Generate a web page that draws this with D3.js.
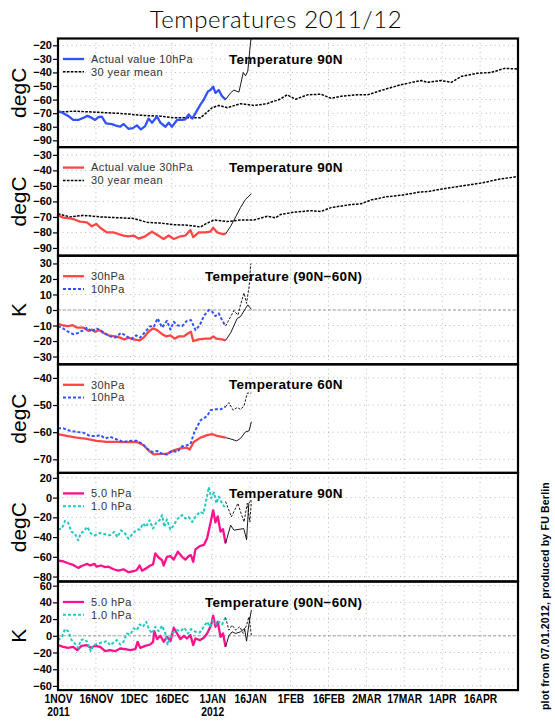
<!DOCTYPE html>
<html>
<head>
<meta charset="utf-8">
<script src="https://cdn.jsdelivr.net/npm/d3@7"></script>
<style>
  body { margin: 0; background: #fff; }
  text { font-family: "Liberation Sans", Arial, sans-serif; }
</style>
</head>
<body>
<svg id="chart" width="555" height="725"></svg>
<script>
// values: [days since 1 Nov 2011, value]
var t10_90 = [[0,-68.5],[2.1,-70],[4,-72],[6,-75],[8,-75],[10,-73.5],[11.6,-72],[13.4,-73.5],[14.7,-75],[16,-73],[17.3,-72.5],[19,-77.5],[21.3,-78],[22.6,-79],[24.6,-80],[25.9,-78],[27.9,-81.5],[29.6,-81],[31.2,-79],[32.8,-82],[34.5,-79.5],[35.8,-74],[37.2,-77],[39.2,-72.5],[40.5,-77],[42.5,-80],[43.8,-77],[45.1,-80],[47.1,-75],[49.1,-75],[50.4,-74.5],[51.7,-71],[53.1,-74],[54.4,-70],[56.4,-63.5],[57.7,-60],[59.3,-54],[60.3,-53],[61.4,-50.5],[62.3,-55],[63.6,-53],[64.9,-57.5],[66.3,-60]];
var fc10_90 = [[66.3,-60],[68.3,-55],[69.6,-53],[71.6,-54.5],[73.3,-40],[74.2,-42.5],[75.1,-39],[75.9,-23],[76.8,-8]];
var mean10_90 = [[0,-69.3],[6,-68.5],[15.3,-69.3],[24.6,-70.2],[33.9,-71.7],[40.5,-72.2],[45.8,-73.4],[51,-73.4],[56.4,-73.4],[58.4,-70.2],[61,-66],[63.6,-64.3],[67,-66],[72.2,-63],[77.5,-64.3],[82.8,-63],[84.1,-62],[87.5,-60],[90.7,-56.5],[94,-59.7],[98.7,-56.5],[104,-56],[108,-59],[113,-57.3],[118.5,-56.5],[122.5,-56.5],[127.8,-53.3],[135.7,-49],[143.7,-46],[146.3,-47.3],[151.6,-46],[155.6,-47.3],[159.5,-43],[166,-40.6],[171.4,-40],[176.7,-37],[182,-37.5]];

var t30_90 = [[0,-69],[2.1,-70.5],[4.8,-71],[6.7,-71.8],[8.7,-73],[11.4,-73.5],[13.4,-76],[15.1,-74.5],[16.7,-77],[19.3,-80],[21.9,-80],[23.9,-81],[25.9,-82],[27.9,-82.5],[29.9,-82],[31.9,-84],[34.5,-82.5],[37.2,-79.5],[39.2,-81.5],[41.8,-84.2],[43.8,-82],[45.8,-84.2],[48.4,-82.5],[50.4,-82],[52.4,-78.5],[53.5,-83],[55.7,-80],[58.4,-80],[60.3,-79.5],[61.4,-77],[63,-80],[64.9,-81],[66.3,-81]];
var fc30_90 = [[66.3,-81],[68.3,-76],[70.3,-70],[72.2,-64],[74.2,-58.7],[76.5,-55]];
var mean30_90 = [[0,-68],[4.8,-70],[10,-69],[16.7,-70],[24.6,-70.6],[29.9,-71],[35.2,-73.5],[40.5,-74],[45.8,-75],[51,-75.3],[56.4,-76.5],[58.4,-74.5],[61.7,-72],[67,-73],[72.2,-72],[77.5,-72],[82.8,-69.6],[86,-70.6],[88,-68.5],[93,-67],[100,-66],[104,-66.5],[108,-64],[116,-62],[120,-61.5],[124,-59],[130,-57],[136,-56],[143,-54],[147,-53.5],[152,-52],[160,-50],[168,-48],[175,-45.5],[182,-44]];

var d30_diff = [[0,-9],[2.1,-10],[4,-10.4],[5.8,-9.8],[7.4,-11.3],[10,-11.3],[12.1,-13.5],[13.4,-12.6],[14.7,-14],[16.4,-13],[18,-14.8],[20,-16.3],[22.6,-17],[24.6,-17.8],[26.2,-19],[27.9,-17.8],[29.9,-19],[32.3,-19.6],[33.9,-17.8],[35.8,-14],[37.6,-11.8],[39.2,-13],[41.2,-15.6],[42.9,-17],[44.5,-16.3],[46.1,-18.5],[47.8,-17],[49.8,-17],[51.7,-14.8],[52.6,-14],[53.5,-20],[55.7,-19],[58.4,-18.5],[60.3,-18.5],[61.4,-17],[62.7,-18.5],[64.9,-19],[66.3,-19.6]];
var fc30_diff = [[66.3,-19.6],[68.3,-14.8],[70.9,-5.4],[72.2,-4.3],[74.2,1],[75.1,3.3],[76.5,0.4]];
var d10_diff = [[0,-10.4],[2.1,-12],[4,-14],[6,-15.6],[8,-14.8],[10,-13],[11.6,-11.3],[13.4,-14],[15.1,-11.8],[16.7,-13],[18.7,-15.2],[20.6,-17],[22.6,-17.8],[24.9,-14.8],[26.6,-16.3],[27.9,-17.8],[29.2,-18.5],[30.9,-16.3],[32.5,-17.8],[34.5,-14],[36.5,-10.4],[37.9,-10.9],[39.4,-5.4],[41.2,-11.3],[43.1,-7],[44.5,-12.6],[45.8,-7.6],[47.1,-9.8],[49.1,-10.4],[51,-7],[52.6,-6.5],[54.4,-13],[56.1,-9.8],[57.7,-3.9],[59.7,0],[61,-1],[62.3,-3.9],[63.6,-2.2],[64.9,-6.5],[66.3,-10.4]];
var fc10_diff = [[66.3,-10.4],[68.3,-4.3],[69.6,-0.4],[71.2,-3.3],[72.2,3.3],[73.6,11],[74.6,4.3],[75.6,15],[76.3,30]];

var t30_60 = [[0,-60.7],[3.4,-61.4],[7.4,-62],[11.4,-62.5],[15.3,-63.2],[19.3,-63.6],[23.3,-63.6],[27.2,-63.7],[31.2,-63.6],[33.9,-64.8],[35.8,-66.7],[37.8,-68.2],[40.5,-68],[43.1,-68],[45.8,-66.7],[48.4,-66],[51,-65.7],[52.1,-66.4],[53.7,-63.6],[56.4,-62],[59,-61.1],[61,-60.7],[63,-61.4],[66.3,-62]];
var fc30_60 = [[66.3,-62],[68.3,-62.5],[70.7,-63.2],[72.2,-62.3],[74.2,-59.9],[75.6,-59.5],[76.5,-56.2]];
var t10_60 = [[0,-58.6],[2.1,-58.6],[4.8,-59.5],[7.4,-59.9],[10,-60.2],[12.7,-61.4],[15.3,-61.4],[16.7,-61.1],[18.7,-62.3],[20.6,-61.7],[23.3,-62.7],[25.9,-63.6],[28.6,-63.2],[31.2,-63.2],[33.2,-64.2],[35.2,-66],[37.2,-67.3],[39.2,-66.9],[41.2,-68],[43.1,-68.2],[45.1,-66.9],[47.1,-67.3],[49.1,-65.2],[51,-64.8],[52.4,-64.4],[54,-59.9],[56.4,-55.6],[59,-54.1],[60.3,-51.9],[62.3,-51.6],[64.3,-51.6],[66.3,-50.6]];
var fc10_60 = [[66.3,-50.6],[67.6,-49.1],[69.3,-51.9],[70.9,-50.9],[72.2,-51.6],[73.6,-50.4],[74.9,-45.6],[76.5,-45.6]];

var t5_90 = [[0,-63.8],[2,-64.5],[4,-66.5],[6,-68.2],[8,-71.2],[9.8,-68.8],[11.6,-67.2],[12.7,-68.8],[14.4,-67.2],[15.3,-70],[17,-68.8],[18.7,-70.5],[20,-70],[22,-72.6],[23.9,-74],[25.9,-72.6],[27.9,-75.6],[29.9,-74.6],[31.2,-73.3],[32.3,-68.8],[33.2,-74],[35.2,-71.2],[36.5,-68.8],[37.6,-67.8],[38.5,-56.6],[39.8,-60.7],[41.2,-63.5],[41.8,-68.8],[43.1,-60],[44.5,-59.3],[45.8,-62.8],[47.4,-54.9],[49.1,-60],[50.4,-62.8],[51.7,-59.3],[52.6,-58.3],[53.5,-65.1],[54.4,-52.5],[56.1,-49.1],[57.7,-48],[59,-41.2],[60.3,-25.9],[61.4,-12.9],[62.3,-25.2],[63.2,-19],[64.3,-34.4],[65.3,-32],[66.3,-46.4]];
var fc5_90 = [[66.3,-46.4],[68.3,-28],[69.6,-33],[73.5,-31.4],[74.6,-42.6],[75.5,-5.8],[76.5,-2.4]];
var t1_90 = [[0,-32.4],[1.5,-31.4],[2.8,-23.5],[4,-25.6],[5.4,-34.8],[6.7,-36.5],[8,-43.3],[9,-35.8],[10,-34.8],[11.6,-29.7],[13,-36.5],[14.7,-38.2],[16.7,-35.8],[18.7,-37.2],[20.6,-38.2],[22.2,-34.8],[23.5,-40],[24.9,-33.2],[26.6,-36.5],[27.9,-41.6],[29.6,-36.5],[31.2,-32.4],[32.5,-32.4],[33.6,-26.3],[34.9,-29.7],[36.2,-22.9],[37.6,-31.4],[38.8,-25.6],[40.2,-22.9],[41.2,-17.7],[42.1,-29.7],[43.1,-22.2],[44.5,-32.4],[45.8,-28],[47.4,-21.2],[49.1,-17.7],[50.4,-21.2],[51.7,-19.5],[53.1,-24.6],[54.4,-19.5],[56.1,-14.3],[57.5,-16],[58.4,-5.8],[59.7,10.6],[60.6,-0.7],[61.7,5.1],[62.7,-5.8],[63.6,1],[64.9,-5.8],[66.3,-10.9]];
var fc1_90 = [[66.3,-4],[68.6,-19.5],[71.2,-5.8],[72.2,-14.3],[73.6,-24.6],[74.9,-5.8],[75.9,-24.6],[76.5,-4]];

var d5_diff = [[0,-11.2],[2.1,-13.2],[4,-14.4],[6,-13.2],[7.6,-17.2],[9.3,-12],[11.4,-11.2],[13,-14.4],[14.7,-12],[16.7,-13.2],[18.7,-18.4],[20.6,-17.2],[22.6,-18.4],[24.6,-15.2],[26.6,-16],[28.6,-17.2],[30.6,-16],[31.5,-7.2],[32.5,-14.4],[34.5,-12],[36.5,-10.4],[37.6,-7.2],[38.1,5.6],[39.2,-4],[40.5,0],[41.8,-7.2],[43.1,-1.2],[44.5,-6.4],[45.8,9.6],[47.1,2.8],[48.4,-4],[49.8,0],[51,-3.2],[52.4,0.8],[53.5,-11.2],[54.4,-3.2],[56.1,-5.2],[57.7,-2.4],[59,2.8],[60.6,12.8],[61.4,24],[62.3,10.8],[63.2,16.8],[64.3,-1.2],[65.3,2.8],[66.3,-13.2]];
var fc5_diff = [[66.3,-13.2],[67.6,0],[68.9,4.8],[70.3,2.8],[72.2,4.8],[73.8,8.8],[74.6,-6.4],[75.6,14.8],[76.5,30.8]];
var d1_diff = [[0,-5.2],[1.5,-1.2],[2.8,8],[4,5.6],[5.4,-5.2],[6.7,-9.2],[8,-14.4],[9,-5.2],[10.3,-4],[11.6,-7.2],[13,-18.4],[14.1,-11.2],[15.7,-9.2],[17.4,-8],[19.3,-6.4],[20.6,-11.2],[22,-8],[23.3,-5.2],[24.6,-10.4],[25.9,-7.2],[27.2,2.8],[28.6,1.6],[29.9,8.8],[31.2,6.8],[32.3,13.6],[33.6,10.8],[34.9,16.8],[36,8],[37.2,2.8],[38.5,10.8],[39.8,5.6],[41.2,12],[42.5,2.8],[43.4,-10.4],[44.5,-1.2],[45.8,4.8],[47.1,6.8],[48.4,5.6],[50,9.6],[51.4,2.8],[52.6,8],[54.4,4.8],[56.1,4],[57.7,10.8],[59,16.8],[60.1,10.8],[61.4,18.8],[62.7,13.6],[63.6,16.8],[64.9,13.6],[66.3,22]];
var fc1_diff = [[66.3,22],[67.6,6.8],[68.9,12.8],[70.3,6.8],[71.9,10.8],[73.3,2.8],[74.6,12.8],[75.6,22.8],[76.5,0.8]];

var dateTicks = ["2011-11-01","2011-11-16","2011-12-01","2011-12-16","2012-01-01","2012-01-16","2012-02-01","2012-02-16","2012-03-02","2012-03-17","2012-04-01","2012-04-16"];
var dateLabels = ["1NOV","16NOV","1DEC","16DEC","1JAN","16JAN","1FEB","16FEB","2MAR","17MAR","1APR","16APR"];
var yearLabels = {"1NOV": "2011", "1JAN": "2012"};

var BLUE = "#3352ff", RED = "#ff4646", PINK = "#ff108c", CYAN = "#22c8c8";

var solid = function (data, color) { return {data: data, color: color, width: 2.3, dash: null}; };
var dashed = function (data, color) { return {data: data, color: color, width: 2, dash: "3,2"}; };
var mean = function (data) { return {data: data, color: "#000", width: 1.5, dash: "2.6,1.3"}; };
var fcSolid = function (data) { return {data: data, color: "#000", width: 0.9, dash: null}; };
var fcDashed = function (data) { return {data: data, color: "#000", width: 0.9, dash: "2.5,1.5"}; };

var panels = [
    {domain: [-95, -15], ticks: d3.range(-90, -10, 10), unit: "degC", title: "Temperature 90N",
     series: [mean(mean10_90), solid(t10_90, BLUE), fcSolid(fc10_90)],
     legend: [["Actual value 10hPa", BLUE, null, 2.3], ["30 year mean", "#000", "2.6,1.3", 1.5]]},
    {domain: [-95, -25], ticks: d3.range(-90, -20, 10), unit: "degC", title: "Temperature 90N",
     series: [mean(mean30_90), solid(t30_90, RED), fcSolid(fc30_90)],
     legend: [["Actual value 30hPa", RED, null, 2.3], ["30 year mean", "#000", "2.6,1.3", 1.5]]},
    {domain: [-35, 35], ticks: d3.range(-30, 40, 10), unit: "K", title: "Temperature (90N\u221260N)", zero: true,
     series: [solid(d30_diff, RED), dashed(d10_diff, BLUE), fcSolid(fc30_diff), fcDashed(fc10_diff)],
     legend: [["30hPa", RED, null, 2.3], ["10hPa", BLUE, "3,2", 2]]},
    {domain: [-75, -35], ticks: d3.range(-70, -30, 10), unit: "degC", title: "Temperature 60N",
     series: [solid(t30_60, RED), dashed(t10_60, BLUE), fcSolid(fc30_60), fcDashed(fc10_60)],
     legend: [["30hPa", RED, null, 2.3], ["10hPa", BLUE, "3,2", 2]]},
    {domain: [-85, 25], ticks: d3.range(-80, 40, 20), unit: "degC", title: "Temperature 90N",
     series: [solid(t5_90, PINK), dashed(t1_90, CYAN), fcSolid(fc5_90), fcDashed(fc1_90)],
     legend: [["5.0 hPa", PINK, null, 2.3], ["1.0 hPa", CYAN, "3,2", 2]]},
    {domain: [-65, 65], ticks: d3.range(-60, 80, 20), unit: "K", title: "Temperature (90N\u221260N)", zero: true,
     series: [solid(d5_diff, PINK), dashed(d1_diff, CYAN), fcSolid(fc5_diff), fcDashed(fc1_diff)],
     legend: [["5.0 hPa", PINK, null, 2.3], ["1.0 hPa", CYAN, "3,2", 2]]}
];

var left = 58, right = 518, top0 = 38.5, panelH = 108.6;
var start = new Date(Date.UTC(2011, 10, 1)), end = new Date(Date.UTC(2012, 4, 1));
var x = d3.scaleUtc().domain([start, end]).range([left, right]);
var toDate = function (d) { return new Date(start.getTime() + d * 864e5); };
var tickDates = dateTicks.map(function (s) { return new Date(s + "T00:00:00Z"); });

var svg = d3.select("#chart");

svg.append("text")
    .attr("x", 276).attr("y", 28)
    .attr("text-anchor", "middle")
    .style("font-size", "24px").style("font-family", "Lato, 'Liberation Sans', sans-serif").style("font-weight", 300)
    .style("letter-spacing", "0.6px")
    .text("Temperatures 2011/12");

panels.forEach(function (p, i) {
    var y0 = top0 + i * panelH, y1 = y0 + panelH;
    var y = d3.scaleLinear().domain(p.domain).range([y1, y0]);
    var g = svg.append("g");

    g.append("clipPath").attr("id", "clip" + i)
        .append("rect").attr("x", left).attr("y", y0).attr("width", right - left).attr("height", panelH);

    // dotted grid
    g.selectAll(".hgrid").data(p.ticks).enter().append("line")
        .attr("x1", left).attr("x2", right)
        .attr("y1", function (d) { return y(d); }).attr("y2", function (d) { return y(d); })
        .attr("stroke", "#a8a8a8").attr("stroke-width", 0.8).attr("stroke-dasharray", "1,3.5");
    g.selectAll(".vgrid").data(tickDates.slice(1)).enter().append("line")
        .attr("x1", function (d) { return x(d); }).attr("x2", function (d) { return x(d); })
        .attr("y1", y0).attr("y2", y1)
        .attr("stroke", "#a8a8a8").attr("stroke-width", 0.8).attr("stroke-dasharray", "1,3.5");

    if (p.zero) {
        g.append("line")
            .attr("x1", left).attr("x2", right).attr("y1", y(0)).attr("y2", y(0))
            .attr("stroke", "#888").attr("stroke-width", 0.8).attr("stroke-dasharray", "3,2");
    }

    var line = d3.line()
        .x(function (d) { return x(toDate(d[0])); })
        .y(function (d) { return y(d[1]); });

    var lines = g.append("g").attr("clip-path", "url(#clip" + i + ")");
    p.series.forEach(function (s) {
        lines.append("path")
            .attr("d", line(s.data))
            .attr("fill", "none")
            .attr("stroke", s.color)
            .attr("stroke-width", s.width)
            .attr("stroke-dasharray", s.dash)
            .attr("stroke-linejoin", "round");
    });

    // frame
    g.append("rect")
        .attr("x", left).attr("y", y0).attr("width", right - left).attr("height", panelH)
        .attr("fill", "none").attr("stroke", "#000").attr("stroke-width", 2.2);

    // y axis
    var ax = g.append("g")
        .attr("transform", "translate(" + left + ",0)")
        .call(d3.axisLeft(y).tickValues(p.ticks).tickSize(5).tickPadding(1).tickFormat(d3.format("d")));
    ax.select(".domain").remove();
    ax.selectAll("line").attr("stroke-width", 1.2);
    ax.selectAll("text").style("font-size", "11px").style("font-weight", "bold")
        .style("font-family", "'Liberation Sans', Arial, sans-serif");

    g.append("text")
        .attr("transform", "translate(26," + (y0 + panelH / 2) + ") rotate(-90)")
        .attr("text-anchor", "middle")
        .style("font-size", "21px")
        .text(p.unit);

    g.append("text")
        .attr("x", p.title.length > 16 ? 205 : 229).attr("y", y0 + 25)
        .style("font-size", "13.5px").style("font-weight", "bold").style("letter-spacing", "0.3px")
        .text(p.title);

    // legend
    p.legend.forEach(function (l, j) {
        var ly = y0 + 20.5 + j * 12.8;
        g.append("line")
            .attr("x1", 63).attr("x2", 84).attr("y1", ly).attr("y2", ly)
            .attr("stroke", l[1]).attr("stroke-width", l[3]).attr("stroke-dasharray", l[2]);
        g.append("text")
            .attr("x", 91).attr("y", ly + 3.8)
            .style("font-size", "11px").style("letter-spacing", "0.4px").attr("fill", "#333")
            .text(l[0]);
    });

    if (i === panels.length - 1) {
        var xa = svg.append("g")
            .attr("transform", "translate(0," + y1 + ")")
            .call(d3.axisBottom(x).tickValues(tickDates).tickSize(0)
                .tickFormat(function (d, k) { return dateLabels[k]; }));
        xa.select(".domain").remove();
        // condensed look: squeeze the bold labels horizontally
        xa.selectAll(".tick text")
            .attr("y", null).attr("dy", null)
            .attr("transform", "translate(0,12.5) scale(0.86,1)")
            .style("font-size", "12px").style("font-weight", "bold");
        xa.selectAll(".tick").each(function (d, k) {
            var yr = yearLabels[dateLabels[k]];
            if (yr) {
                d3.select(this).append("text")
                    .attr("transform", "translate(0,26) scale(0.86,1)")
                    .attr("fill", "#000").attr("text-anchor", "middle")
                    .style("font-size", "12px").style("font-weight", "bold")
                    .text(yr);
            }
        });
    }
});

svg.append("text")
    .attr("transform", "translate(549,596) rotate(-90)")
    .attr("text-anchor", "middle")
    .style("font-size", "10.5px").style("font-weight", "bold").style("letter-spacing", "0.2px")
    .text("plot from 07.01.2012, produced by FU Berlin");
</script>
</body>
</html>
